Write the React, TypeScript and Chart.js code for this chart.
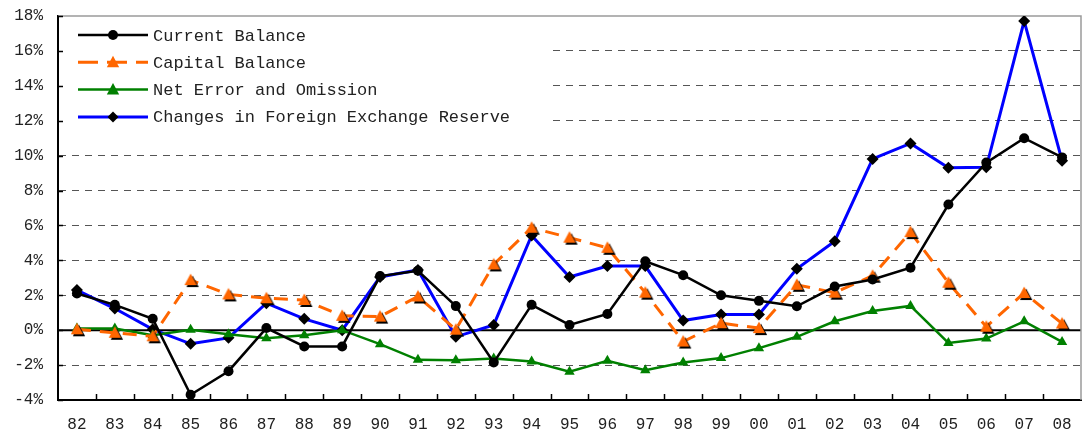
import React, { useEffect, useRef } from "react";
import { Chart, registerables } from "chart.js";

Chart.register(...registerables);

const categories = ["82","83","84","85","86","87","88","89","90","91","92","93","94","95","96","97","98","99","00","01","02","03","04","05","06","07","08"];

const currentBalance = [2.1, 1.45, 0.65, -3.7, -2.35, 0.12, -0.93, -0.93, 3.1, 3.4, 1.38, -1.85, 1.45, 0.3, 0.93, 3.95, 3.15, 2.0, 1.68, 1.37, 2.5, 2.9, 3.58, 7.2, 9.6, 11.0, 9.9];
const capitalBalance = [0.05, -0.15, -0.35, 2.87, 2.05, 1.83, 1.73, 0.82, 0.78, 1.93, 0.03, 3.77, 5.87, 5.3, 4.72, 2.15, -0.65, 0.4, 0.12, 2.6, 2.15, 3.12, 5.62, 2.72, 0.2, 2.13, 0.38];
const netErrorOmission = [0.1, 0.1, -0.29, 0.03, -0.23, -0.46, -0.29, 0.0, -0.8, -1.7, -1.72, -1.62, -1.79, -2.38, -1.75, -2.29, -1.85, -1.6, -1.03, -0.38, 0.51, 1.1, 1.39, -0.73, -0.48, 0.51, -0.67];
const fxReserveChange = [2.3, 1.24, 0.05, -0.78, -0.44, 1.55, 0.65, 0.0, 3.05, 3.45, -0.38, 0.3, 5.43, 3.05, 3.67, 3.67, 0.55, 0.9, 0.9, 3.52, 5.1, 9.81, 10.7, 9.3, 9.33, 17.71, 9.71];

const seriesNames = ["Current Balance", "Capital Balance", "Net Error and Omission", "Changes in Foreign Exchange Reserve"];
const yMin = -4;
const yMax = 18;
const yStep = 2;

const FONT = "'Liberation Mono', 'DejaVu Sans Mono', monospace";

function makeShadowTriangle(): HTMLCanvasElement {
  const c = document.createElement("canvas");
  c.width = 22;
  c.height = 22;
  const g = c.getContext("2d")!;
  const tri = (cx: number, cy: number, color: string) => {
    const s = 6.5;
    g.beginPath();
    g.moveTo(cx, cy - s);
    g.lineTo(cx + s * 0.95, cy + s * 0.75);
    g.lineTo(cx - s * 0.95, cy + s * 0.75);
    g.closePath();
    g.fillStyle = color;
    g.fill();
  };
  tri(13, 13, "#000000");
  tri(11, 11, "#FF6600");
  return c;
}

const zeroPad = () => ({ left: 0, top: 0, right: 0, bottom: 0 });

const framePlugin = {
  id: "framePlugin",
  beforeDatasetsDraw(chart: any) {
    const { ctx, chartArea } = chart;
    const { left, right, top, bottom } = chartArea;
    const y = chart.scales.y;
    ctx.save();
    // legend background
    ctx.fillStyle = "#ffffff";
    ctx.fillRect(left + 1, top + 1, 548 - left, 124);
    // zero line
    const y0 = y.getPixelForValue(0);
    ctx.strokeStyle = "#000000";
    ctx.lineWidth = 2;
    ctx.beginPath();
    ctx.moveTo(left, y0);
    ctx.lineTo(right, y0);
    ctx.stroke();
    // top & right frame
    ctx.strokeStyle = "#9a9a9a";
    ctx.lineWidth = 1.5;
    ctx.beginPath();
    ctx.moveTo(left, top);
    ctx.lineTo(right, top);
    ctx.lineTo(right, bottom);
    ctx.stroke();
    ctx.restore();
  },
  afterDatasetsDraw(chart: any) {
    const { ctx, chartArea } = chart;
    const { left, bottom, top } = chartArea;
    const xs = chart.scales.x;
    const ys = chart.scales.y;
    ctx.save();
    ctx.strokeStyle = "#000000";
    ctx.lineWidth = 1.5;
    // x inward ticks at category boundaries
    const step = xs.getPixelForValue(1) - xs.getPixelForValue(0);
    for (let i = 1; i < categories.length; i++) {
      const px = Math.round(xs.getPixelForValue(i) - step / 2) + 0.5;
      ctx.beginPath();
      ctx.moveTo(px, bottom);
      ctx.lineTo(px, bottom - 6);
      ctx.stroke();
    }
    // y inward ticks
    for (let v = yMin; v <= yMax; v += yStep) {
      const py = Math.round(ys.getPixelForValue(v)) + 0.5;
      ctx.beginPath();
      ctx.moveTo(left, py);
      ctx.lineTo(left + 5, py);
      ctx.stroke();
    }
    // legend
    const rowY0 = top + 19;
    const rowStep = 27.3;
    const x1 = left + 20;
    const x2 = left + 90;
    const mx = (x1 + x2) / 2;
    const ds = chart.data.datasets;
    for (let i = 0; i < ds.length; i++) {
      const d = ds[i];
      const ry = rowY0 + i * rowStep;
      ctx.save();
      ctx.strokeStyle = d.borderColor;
      ctx.lineWidth = d.borderWidth;
      if (d.borderDash) ctx.setLineDash([20, 9]);
      ctx.beginPath();
      ctx.moveTo(x1, ry);
      ctx.lineTo(x2, ry);
      ctx.stroke();
      ctx.setLineDash([]);
      ctx.fillStyle = d.legendMarkerColor;
      const st = d.legendMarker;
      ctx.beginPath();
      if (st === "circle") {
        ctx.arc(mx, ry, 5, 0, Math.PI * 2);
      } else if (st === "triangle") {
        const s = 6.5;
        ctx.moveTo(mx, ry - s);
        ctx.lineTo(mx + s * 0.95, ry + s * 0.75);
        ctx.lineTo(mx - s * 0.95, ry + s * 0.75);
        ctx.closePath();
      } else {
        const s = 5.5;
        ctx.moveTo(mx, ry - s);
        ctx.lineTo(mx + s, ry);
        ctx.lineTo(mx, ry + s);
        ctx.lineTo(mx - s, ry);
        ctx.closePath();
      }
      ctx.fill();
      ctx.fillStyle = "#222222";
      ctx.font = "17px " + FONT;
      ctx.textBaseline = "middle";
      ctx.textAlign = "left";
      ctx.fillText(d.label, x2 + 5, ry + 1);
      ctx.restore();
    }
    ctx.restore();
  },
};

export default function App() {
  const canvasRef = useRef<HTMLCanvasElement | null>(null);

  useEffect(() => {
    if (!canvasRef.current) return;
    const triImg = makeShadowTriangle();
    const chart = new Chart(canvasRef.current, {
      type: "line",
      data: {
        labels: categories,
        datasets: [
          {
            label: seriesNames[0],
            data: currentBalance,
            borderColor: "#000000",
            backgroundColor: "#000000",
            borderWidth: 2.5,
            pointStyle: "circle",
            pointRadius: 5,
            pointBackgroundColor: "#000000",
            pointBorderColor: "#000000",
            pointBorderWidth: 0,
            tension: 0,
            legendMarker: "circle",
            legendMarkerColor: "#000000",
          } as any,
          {
            label: seriesNames[1],
            data: capitalBalance,
            borderColor: "#FF6600",
            backgroundColor: "#FF6600",
            borderWidth: 3,
            borderDash: [14, 9],
            pointStyle: triImg,
            pointRadius: 7,
            tension: 0,
            legendMarker: "triangle",
            legendMarkerColor: "#FF6600",
          } as any,
          {
            label: seriesNames[2],
            data: netErrorOmission,
            borderColor: "#008000",
            backgroundColor: "#008000",
            borderWidth: 2.5,
            pointStyle: "triangle",
            pointRadius: 6,
            pointBackgroundColor: "#008000",
            pointBorderColor: "#008000",
            pointBorderWidth: 0,
            tension: 0,
            legendMarker: "triangle",
            legendMarkerColor: "#008000",
          } as any,
          {
            label: seriesNames[3],
            data: fxReserveChange,
            borderColor: "#0000FF",
            backgroundColor: "#0000FF",
            borderWidth: 3,
            pointStyle: "rectRot",
            pointRadius: 6,
            pointBackgroundColor: "#000000",
            pointBorderColor: "#000000",
            pointBorderWidth: 0,
            tension: 0,
            legendMarker: "diamond",
            legendMarkerColor: "#000000",
          } as any,
        ],
      },
      options: {
        animation: false,
        responsive: false,
        maintainAspectRatio: false,
        layout: { autoPadding: false, padding: { top: 16, right: 3, left: 0, bottom: 0 } },
        plugins: {
          legend: { display: false },
          tooltip: { enabled: false },
        },
        scales: {
          x: {
            type: "category",
            offset: true,
            grid: { display: false, drawTicks: false },
            border: { display: true, color: "#000000", width: 2 },
            ticks: {
              color: "#222222",
              font: { family: FONT, size: 16 },
              padding: 15,
              maxRotation: 0,
              autoSkip: false,
            },
            afterFit: (s: any) => {
              s.height = 35;
              s.paddingLeft = 0;
              s.paddingRight = 0;
              s.getPadding = zeroPad;
            },
          },
          y: {
            min: yMin,
            max: yMax,
            grid: {
              drawTicks: false,
              color: (c: any) => {
                const v = c.tick ? c.tick.value : null;
                if (v === 0 || v === yMax || v === yMin) return "rgba(0,0,0,0)";
                return "#555555";
              },
              lineWidth: 1,
            },
            border: { display: true, color: "#000000", width: 2, dash: [7, 6] },
            ticks: {
              stepSize: yStep,
              color: "#222222",
              font: { family: FONT, size: 16 },
              padding: 15,
              callback: (v: any) => `${v}%`,
            },
            afterFit: (s: any) => {
              s.width = 58;
              s.paddingTop = 0;
              s.paddingBottom = 0;
              s.getPadding = zeroPad;
            },
          },
        },
      },
      plugins: [framePlugin],
    });
    return () => chart.destroy();
  }, []);

  return (
    <div style={{ position: "fixed", left: 0, top: 0, width: 1084, height: 435, background: "#ffffff" }}>
      <canvas ref={canvasRef} width={1084} height={435} style={{ display: "block" }} />
    </div>
  );
}
